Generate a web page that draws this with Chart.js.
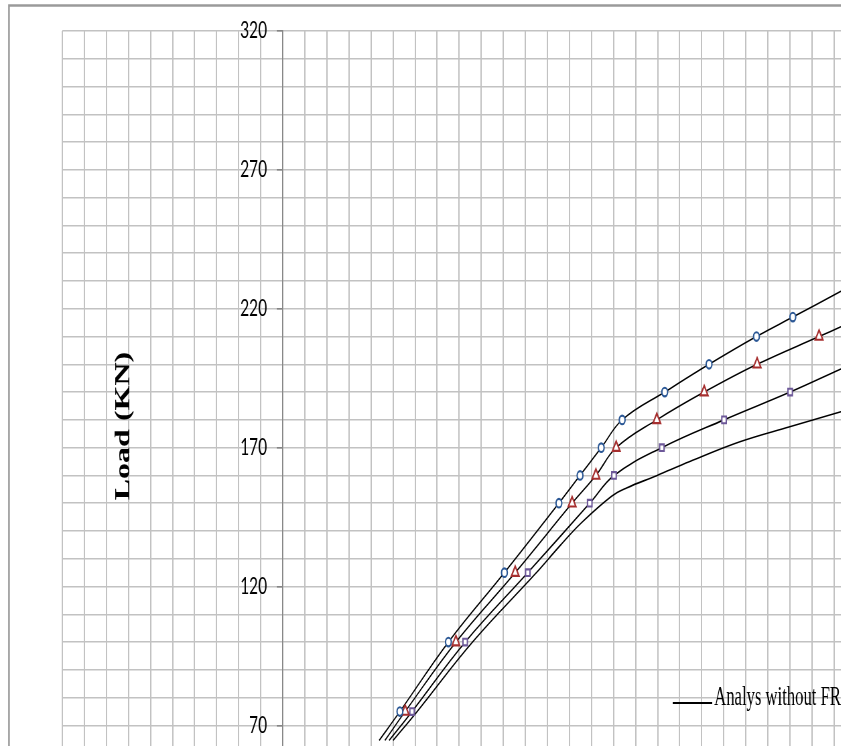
<!DOCTYPE html>
<html>
<head>
<meta charset="utf-8">
<script src="https://cdn.jsdelivr.net/npm/chart.js@4.4.1/dist/chart.umd.min.js"></script>
<style>
  html, body { margin: 0; padding: 0; background: #fff; overflow: hidden; }
  #frame { position: absolute; left: 0; top: 0; width: 841px; height: 746px; overflow: hidden; background: #fff; }
  /* the drawing is laid out wide and then narrowed horizontally */
  #stage { position: absolute; left: 0; top: 0; width: 1420px; height: 770px; transform: scaleX(0.67); transform-origin: 0 0; }
  canvas { display: block; }
</style>
</head>
<body>
<div id="frame"><div id="stage"><canvas id="chart" width="1420" height="770"></canvas></div></div>
<script>
// Load (kN) against deflection; markers sit on the smoothed analysis curves
const labelledLoads = [70, 120, 170, 220, 270, 320];

const loadsCircle   = [75, 100, 125, 150, 160, 170, 180, 190, 200, 210, 217];
const deflCircle    = [5.31, 7.51, 10.05, 12.52, 13.48, 14.44, 15.39, 17.32, 19.33, 21.48, 23.13];
const loadsTriangle = [75, 100, 125, 150, 160, 170, 180, 190, 200, 210];
const deflTriangle  = [5.55, 7.85, 10.54, 13.12, 14.20, 15.12, 16.96, 19.11, 21.51, 24.32];
const loadsSquare   = [75, 100, 125, 150, 160, 170, 180, 190];
const deflSquare    = [5.86, 8.27, 11.11, 13.92, 15.02, 17.19, 20.01, 23.01];

// first and last points of the curves running through each marker set
const circleCurveEnds   = [[4.37, 64.6], [25.31, 226.3]];
const triangleCurveEnds = [[4.63, 64.6], [25.31, 213.5]];
const squareCurveEnds   = [[4.82, 64.6], [25.31, 198.3]];

// analysis without FR
const deflNoFR = [5.00, 6.09, 8.6, 11.5, 12.56, 13.55, 14.91, 15.59, 16.95, 18.46, 20.73, 22.99, 25.31];
const loadNoFR = [64.6, 75, 100, 125, 134.6, 143, 152.5, 155.5, 159.9, 165, 172.1, 177.5, 182.9];

const pts = (xs, ys) => xs.map((x, i) => ({ x: x, y: ys[i] }));
const withEnds = (ends, list) => [{ x: ends[0][0], y: ends[0][1] }, ...list, { x: ends[1][0], y: ends[1][1] }];

const curveStyle = {
  showLine: true, borderColor: '#000', borderWidth: 1.6, pointRadius: 0,
  tension: 0.4, fill: false, order: 1
};
const markerStyle = (shape, color, radius) => ({
  showLine: false, pointStyle: shape, pointRadius: radius, pointBorderColor: color,
  pointBackgroundColor: '#fff', pointBorderWidth: 2.1, order: 0
});

const frameBorder = {
  id: 'frameBorder',
  beforeDraw(chart) {
    const ctx = chart.ctx;
    ctx.save();
    ctx.strokeStyle = '#9a9a9a';
    ctx.lineWidth = 2.5;
    ctx.strokeRect(13.4, 5.5, chart.width + 50, chart.height + 50);
    ctx.restore();
  }
};

const sideTitle = {
  id: 'sideTitle',
  afterDraw(chart, args, opts) {
    const ctx = chart.ctx;
    ctx.save();
    ctx.translate(opts.x, opts.y);
    ctx.rotate(-Math.PI / 2);
    ctx.font = opts.font;
    ctx.fillStyle = '#000';
    ctx.textAlign = 'center';
    ctx.textBaseline = 'middle';
    ctx.fillText(opts.text, 0, 0);
    ctx.restore();
  }
};

const plotLegend = {
  id: 'plotLegend',
  afterDraw(chart, args, opts) {
    const ctx = chart.ctx;
    ctx.save();
    let y = opts.y;
    chart.data.datasets.forEach(ds => {
      if (!ds.label) return;
      ctx.strokeStyle = ds.borderColor;
      ctx.lineWidth = 2;
      ctx.beginPath();
      ctx.moveTo(opts.x, y);
      ctx.lineTo(opts.x + opts.lineLength, y);
      ctx.stroke();
      // condensed serif label
      ctx.save();
      ctx.translate(opts.x + opts.lineLength + opts.gap, y + opts.baselineShift);
      ctx.scale(opts.condense, 1);
      ctx.font = opts.font;
      ctx.fillStyle = '#000';
      ctx.textAlign = 'left';
      ctx.textBaseline = 'alphabetic';
      ctx.fillText(ds.label, 0, 0);
      ctx.restore();
      y += opts.rowHeight;
    });
    ctx.restore();
  }
};

new Chart(document.getElementById('chart'), {
  type: 'scatter',
  data: {
    datasets: [
      Object.assign({ label: 'Analys without FR', data: pts(deflNoFR, loadNoFR) }, curveStyle),
      Object.assign({ data: withEnds(circleCurveEnds, pts(deflCircle, loadsCircle)) }, curveStyle),
      Object.assign({ data: withEnds(triangleCurveEnds, pts(deflTriangle, loadsTriangle)) }, curveStyle),
      Object.assign({ data: withEnds(squareCurveEnds, pts(deflSquare, loadsSquare)) }, curveStyle),
      Object.assign({ data: pts(deflCircle, loadsCircle) }, markerStyle('circle', '#2a5795', 4.3)),
      Object.assign({ data: pts(deflTriangle, loadsTriangle) }, markerStyle('triangle', '#a62f2f', 6.5)),
      Object.assign({ data: pts(deflSquare, loadsSquare) }, markerStyle('rect', '#6d5899', 4.7))
    ]
  },
  options: {
    responsive: false,
    animation: false,
    events: [],
    layout: { padding: { left: 93, top: 31, right: 10.6, bottom: 11 } },
    plugins: {
      legend: { display: false },
      tooltip: { enabled: false },
      sideTitle: { text: 'Load (KN)', x: 185, y: 426, font: 'bold 32px "Liberation Serif"' },
      plotLegend: { x: 1004, y: 703, lineLength: 59, gap: 3, rowHeight: 40, baselineShift: 2,
                    condense: 0.92, font: '27px "Liberation Serif"' }
    },
    scales: {
      x: {
        type: 'linear', min: -10, max: 30,
        ticks: { stepSize: 1, display: false },
        grid: { color: '#c2c2c2', lineWidth: 2, drawTicks: false },
        border: { display: false },
        afterFit: s => { s.height = 0; }
      },
      y: {
        type: 'linear', min: 60, max: 320,
        position: { x: 0 },
        ticks: {
          stepSize: 10, autoSkip: false, color: '#000',
          font: { family: 'Lato', size: 23 },
          // trailing spaces keep the labels clear of the axis line
          callback: v => (labelledLoads.includes(v) ? String(v) + '    ' : '')
        },
        grid: {
          color: '#c2c2c2', lineWidth: 1.6, tickLength: 8,
          tickColor: ctx => (ctx.tick && labelledLoads.includes(ctx.tick.value) ? '#858585' : 'rgba(0,0,0,0)')
        },
        border: { color: '#858585', width: 1.5 }
      }
    }
  },
  plugins: [frameBorder, sideTitle, plotLegend]
});
</script>
</body>
</html>
